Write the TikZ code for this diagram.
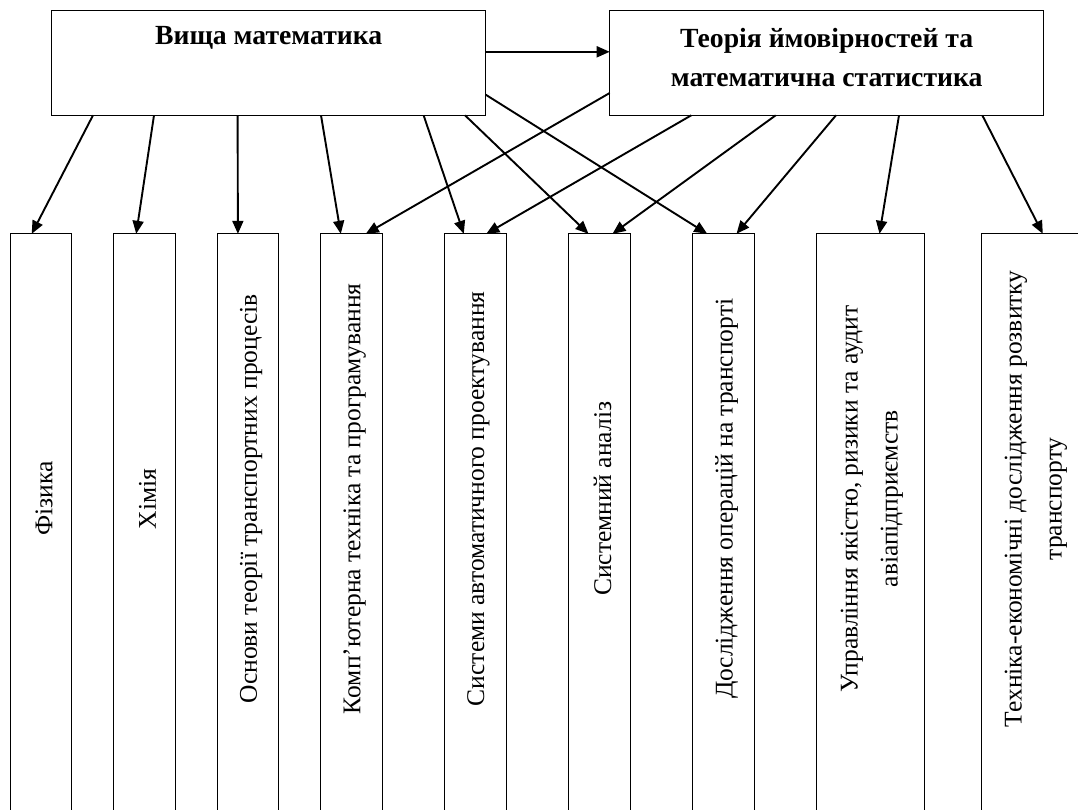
\documentclass[tikz,border=0pt]{standalone}
\usepackage{fontspec}
\setmainfont{Liberation Serif}
\usetikzlibrary{arrows.meta, positioning}

\begin{document}
\begin{tikzpicture}[x=1pt, y=-1pt,
  topbox/.style  = {draw, line width=1.3pt, outer sep=0pt,
                    minimum width=434pt, minimum height=105pt},
  subjbox/.style = {draw, line width=1.3pt, outer sep=0pt,
                    minimum width=61.5pt, minimum height=620pt},
  widebox/.style = {subjbox, minimum width=108pt},
  ttl/.style     = {font=\bfseries\fontsize{27.7}{38.4}\selectfont, align=center},
  vtxt/.style    = {rotate=90, font=\fontsize{25.5}{40}\selectfont, align=center},
  arr/.style     = {-{Triangle[length=13pt, width=11pt]}, line width=1.9pt}
]
\useasboundingbox (0,0) rectangle (1078,809);

% top row
\node[topbox, anchor=north west] (hm) at (51.7,10.3) {};
\node[topbox, right=124pt of hm] (tv) {};
\node[ttl] (hmt) at ([yshift=-28pt]hm.north) {Вища математика};
\node[ttl] (tvt) at ([yshift=-47.2pt]tv.north) {Теорія ймовірностей та\\математична статистика};

% subjects
\node[subjbox, anchor=north west] (fiz) at (10.3,233.8) {};
\node[subjbox, right=42pt of fiz] (him) {};
\node[subjbox, right=42pt of him] (osn) {};
\node[subjbox, right=42pt of osn] (komp) {};
\node[subjbox, right=62.5pt of komp] (sapr) {};
\node[subjbox, right=62.5pt of sapr] (san) {};
\node[subjbox, right=62.5pt of san] (dos) {};
\node[widebox, right=62.5pt of dos] (upr) {};
\node[widebox, right=57pt of upr] (tech) {};

\node[vtxt] (fizt) at ([xshift=3pt,yshift=-265pt]fiz.north) {Фізика};
\node[vtxt] (himt) at ([xshift=3pt,yshift=-265pt]him.north) {Хімія};
\node[vtxt] (osnt) at ([xshift=3pt,yshift=-265pt]osn.north) {Основи теорії транспортних процесів};
\node[vtxt] (kompt) at ([xshift=3pt,yshift=-265pt]komp.north) {Комп’ютерна техніка та програмування};
\node[vtxt] (saprt) at ([xshift=3pt,yshift=-265pt]sapr.north) {Системи автоматичного проектування};
\node[vtxt] (sant) at ([xshift=3pt,yshift=-265pt]san.north) {Системний аналіз};
\node[vtxt] (dost) at ([xshift=3pt,yshift=-265pt]dos.north) {Дослідження операцій на транспорті};
\node[vtxt] (uprt) at ([xshift=1pt,yshift=-265pt]upr.north) {Управління якістю, ризики та аудит\\авіапідприємств};
\node[vtxt] (techt) at ([xshift=0pt,yshift=-265pt]tech.north) {Техніка-економічні дослідження розвитку\\транспорту};

% links
\draw[arr] ([yshift=11pt]hm.east) -- ([yshift=11pt]tv.west);
\draw[arr] ([xshift=41.3pt]hm.south west) -- ([xshift=21.4pt]fiz.north west);
\draw[arr] ([xshift=102.3pt]hm.south west) -- ([xshift=22.4pt]him.north west);
\draw[arr] ([xshift=185.9pt]hm.south west) -- ([xshift=20.6pt]osn.north west);
\draw[arr] ([xshift=269.3pt]hm.south west) -- ([xshift=20pt]komp.north west);
\draw[arr] ([xshift=371.9pt]hm.south west) -- ([xshift=19pt]sapr.north west);
\draw[arr] ([xshift=413.3pt]hm.south west) -- ([xshift=19.7pt]san.north west);
\draw[arr] ([yshift=20.6pt]hm.south east) -- ([xshift=14.4pt]dos.north west);

\draw[arr] ([yshift=22.3pt]tv.south west) -- ([xshift=45pt]komp.north west);
\draw[arr] ([xshift=81.6pt]tv.south west) -- ([xshift=41.5pt]sapr.north west);
\draw[arr] ([xshift=166pt]tv.south west) -- ([xshift=43.7pt]san.north west);
\draw[arr] ([xshift=226.3pt]tv.south west) -- ([xshift=43.7pt]dos.north west);
\draw[arr] ([xshift=289.3pt]tv.south west) -- ([xshift=62.7pt]upr.north west);
\draw[arr] ([xshift=372.6pt]tv.south west) -- ([xshift=61pt]tech.north west);
\end{tikzpicture}
\end{document}
